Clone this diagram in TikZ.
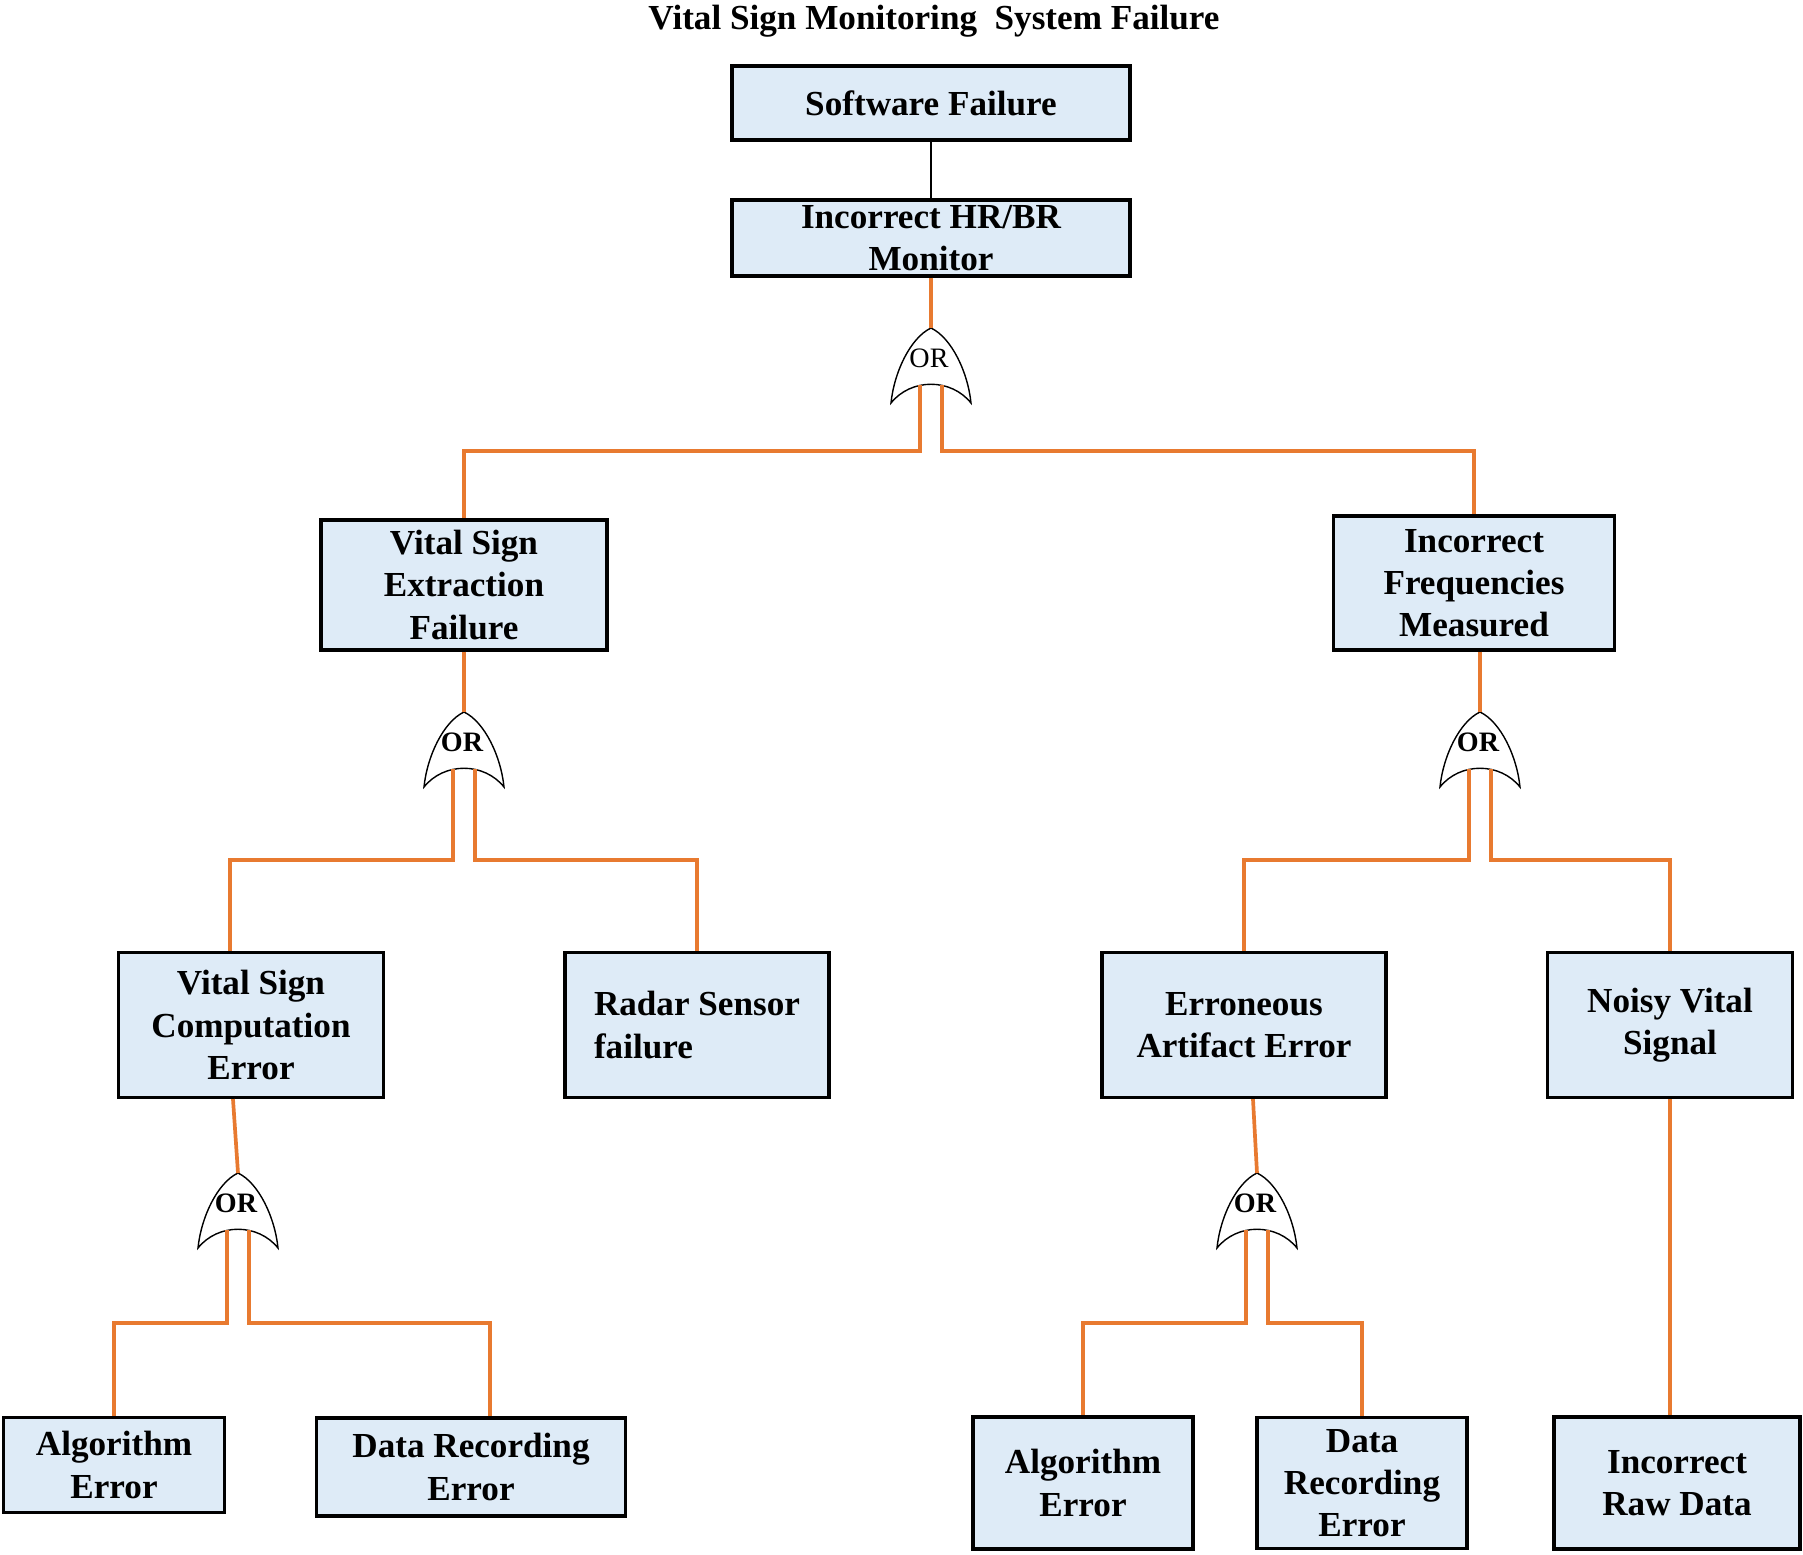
\documentclass[tikz,border=0pt]{standalone}
\usepackage{fontspec}
\setmainfont{Liberation Serif}
\usetikzlibrary{calc}
\definecolor{boxfill}{RGB}{222,235,247}
\definecolor{linkorange}{RGB}{232,122,48}
\tikzset{event/.style = {draw, line width=0.9pt, fill=boxfill, inner sep=1pt,
      align=center, font=\fontsize{10}{12}\selectfont\bfseries},%
    link/.style = {draw=linkorange, line width=1.05pt},%
    orgate/.pic = {
      \draw[line width=0.4pt, fill=white] (0,0) .. controls (-0.21,-0.10) and (-0.37,-0.45) .. (-0.40,-0.75)
        .. controls (-0.20,-0.50) and (0.20,-0.50) .. (0.40,-0.75)
        .. controls (0.37,-0.45) and (0.21,-0.10) .. (0,0) -- cycle;
      \coordinate (-top) at (0,0);
      \coordinate (-inl) at (-0.11,-0.57);
      \coordinate (-inr) at (0.11,-0.57);
      \node[font=\fontsize{8}{9}\selectfont#1] (-lbl) at (-0.02,-0.30) {OR};
    }}

\begin{document}
\begin{tikzpicture}
        \useasboundingbox (0,0) rectangle (18.03,-15.55);
        \node[font=\fontsize{10}{12}\selectfont\bfseries] (title) at (9.34,-0.21)
        {Vital Sign Monitoring\ \ System Failure};
        % top events
        \node[event, minimum width=3.98cm, minimum height=0.74cm] (sf) at (9.31,-1.03) {Software Failure};
        \node[event, minimum width=3.98cm, minimum height=0.76cm, inner ysep=-1.5pt] (hr) at (9.31,-2.38)
        {Incorrect HR/BR\\Monitor};
        \draw[line width=0.8pt] (sf.south) -- (hr.north);
        \pic (g1) at (9.31,-3.28) {orgate=\mdseries};
        \draw[link] (hr.south) -- (g1-top);
        % second level
        \node[event, minimum width=2.86cm, minimum height=1.30cm] (vsef) at (4.64,-5.85)
        {Vital Sign\\Extraction\\Failure};
        \node[event, minimum width=2.81cm, minimum height=1.34cm] (ifm) at (14.74,-5.83)
        {Incorrect\\Frequencies\\Measured};
        \draw[link] (g1-inl) -- ++(0,-0.66) -| (vsef.north);
        \draw[link] (g1-inr) -- ++(0,-0.66) -| (ifm.north);
        \pic (g2) at (4.64,-7.12) {orgate=\bfseries};
        \pic (g3) at (14.80,-7.12) {orgate=\bfseries};
        \draw[link] (vsef.south) -- (g2-top);
        \draw[link] (g3-top |- ifm.south) -- (g3-top);
        % third level
        \node[event, minimum width=2.65cm, minimum height=1.45cm] (vsce) at (2.51,-10.25)
        {Vital Sign\\Computation\\Error};
        \node[event, minimum width=2.64cm, minimum height=1.45cm, align=left] (rsf) at (6.97,-10.25)
        {Radar Sensor\\failure};
        \node[event, minimum width=2.84cm, minimum height=1.45cm] (eae) at (12.44,-10.25)
        {Erroneous\\Artifact Error};
        \node[event, minimum width=2.45cm, minimum height=1.45cm] (nvs) at (16.70,-10.25)
        {Noisy Vital\\Signal};
        \draw[link] (g2-inl) -- ++(0,-0.91) -| ([xshift=-2.1mm]vsce.north);
        \draw[link] (g2-inr) -- ++(0,-0.91) -| (rsf.north);
        \draw[link] (g3-inl) -- ++(0,-0.91) -| (eae.north);
        \draw[link] (g3-inr) -- ++(0,-0.91) -| (nvs.north);
        \pic (g4) at (2.38,-11.73) {orgate=\bfseries};
        \pic (g5) at (12.57,-11.73) {orgate=\bfseries};
        \draw[link] ([xshift=-1.8mm]vsce.south) -- (g4-top);
        \draw[link] ([xshift=0.9mm]eae.south) -- (g5-top);
        % basic events
        \node[event, minimum width=2.21cm, minimum height=0.95cm] (ae1) at (1.14,-14.65)
        {Algorithm\\Error};
        \node[event, minimum width=3.09cm, minimum height=0.98cm] (dre1) at (4.71,-14.67)
        {Data Recording\\Error};
        \node[event, minimum width=2.20cm, minimum height=1.32cm] (ae2) at (10.83,-14.83)
        {Algorithm\\Error};
        \node[event, minimum width=2.10cm, minimum height=1.31cm] (dre2) at (13.62,-14.83)
        {Data\\Recording\\Error};
        \node[event, minimum width=2.46cm, minimum height=1.32cm] (iraw) at (16.77,-14.83)
        {Incorrect\\Raw Data};
        \draw[link] (g4-inl) -- ++(0,-0.93) -| (ae1.north);
        \draw[link] (g4-inr) -- ++(0,-0.93) -| ([xshift=1.9mm]dre1.north);
        \draw[link] (g5-inl) -- ++(0,-0.93) -| (ae2.north);
        \draw[link] (g5-inr) -- ++(0,-0.93) -| (dre2.north);
        \draw[link] (nvs.south) -- (nvs.south |- iraw.north);
\end{tikzpicture}
\end{document}
